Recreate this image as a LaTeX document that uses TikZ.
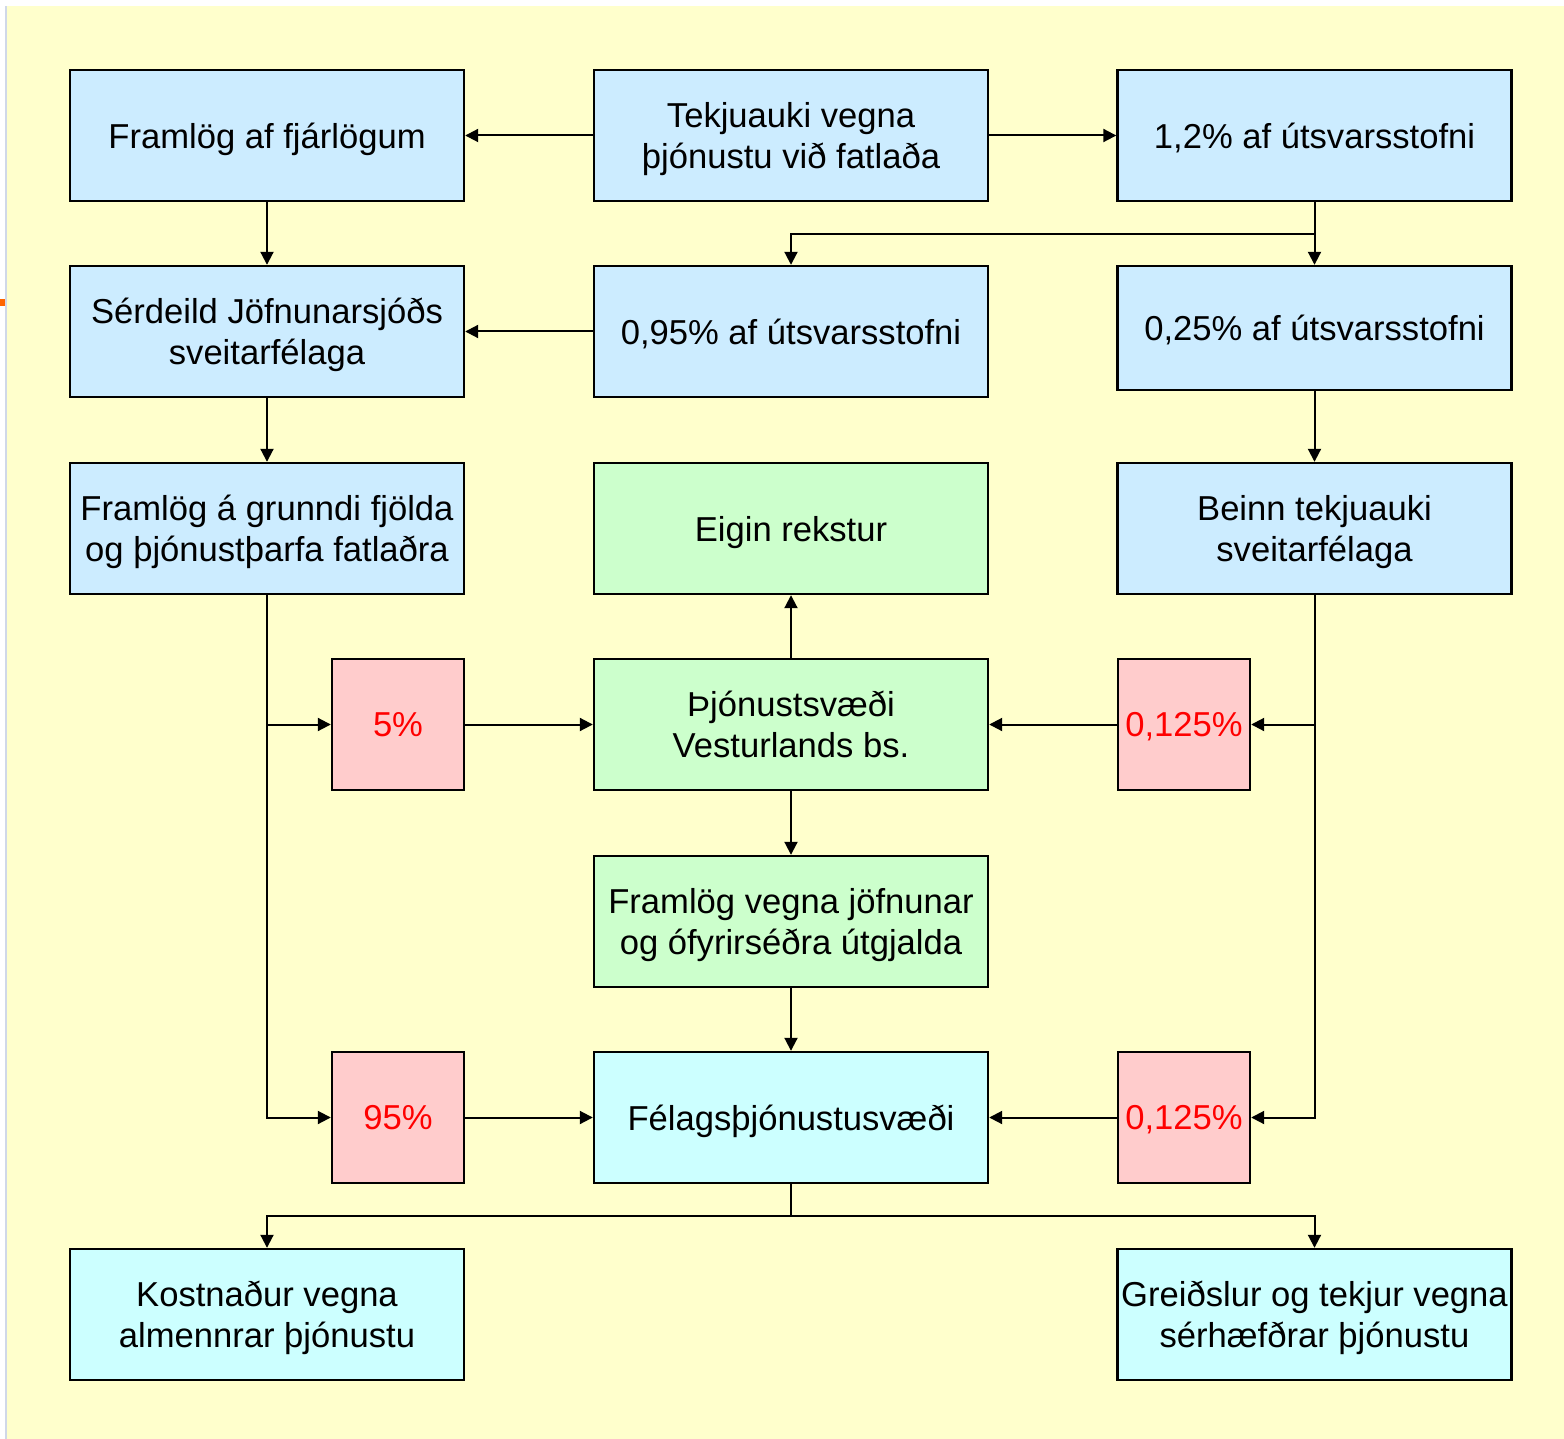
\documentclass[tikz,border=0pt]{standalone}
\usepackage{fontspec}
\setmainfont{Liberation Sans}
\usetikzlibrary{arrows.meta}
\usetikzlibrary{positioning}
\definecolor{bg}{HTML}{FFFFCC}
\definecolor{blu}{HTML}{CCECFF}
\definecolor{grn}{HTML}{CCFFCC}
\definecolor{pnk}{HTML}{FFCCCC}
\definecolor{cyn}{HTML}{CCFFFF}
\definecolor{edge}{HTML}{D0D8E8}
\definecolor{tick}{HTML}{FF6600}
\tikzset{box/.style = {draw, line width=1.2pt, fill=blu, minimum width=197pt, minimum height=65.5pt, inner sep=0, text depth=0pt, align=center, font=\fontsize{17.3}{20.5}\selectfont}}
\tikzset{pct/.style = {box, fill=pnk, minimum width=66pt, text=red}}
\tikzset{arr/.style = {line width=1pt, -{Triangle[length=6.5pt,width=6.5pt]}}}
\tikzset{ln/.style = {line width=1pt}}
\begin{document}
\begin{tikzpicture}[x=0.5pt,y=-0.5pt]
        \useasboundingbox (0,0) rectangle (1564,1439);
        \fill [white] (0,0) rectangle (1564,1439);
        \fill [bg] (7,6) rectangle (1564,1439);
        \fill [edge] (5,6) rectangle (7,1439);
        \fill [tick] (0,299) rectangle (5,306);

        \node [box] (fjarlog) at (267,135.5) {Framlög af fjárlögum};
        \node [box] (tekjuauki) at (791,135.5) {Tekjuauki vegna\\þjónustu við fatlaða};
        \node [box] (utsvar) at (1314.5,135.5) {1,2\% af útsvarsstofni};
        \node [box] (serdeild) at (267,331.5) {Sérdeild Jöfnunarsjóðs\\sveitarfélaga};
        \node [box] (utsvarA) at (791,331.5) {0,95\% af útsvarsstofni};
        \node [box, minimum height=62pt] (utsvarB) at (1314.5,328) {0,25\% af útsvarsstofni};
        \node [box] (grunn) at (267,528.5) {Framlög á grunndi fjölda\\og þjónustþarfa fatlaðra};
        \node [box, fill=grn] (eigin) at (791,528.5) {Eigin rekstur};
        \node [box] (beinn) at (1314.5,528.5) {Beinn tekjuauki\\sveitarfélaga};
        \node [pct] (pA) at (398,724.5) {5\%};
        \node [box, fill=grn] (vest) at (791,724.5) {Þjónustsvæði\\Vesturlands bs.};
        \node [pct] (pB) at (1184,724.5) {0,125\%};
        \node [box, fill=grn] (jofn) at (791,921.5) {Framlög vegna jöfnunar\\og ófyrirséðra útgjalda};
        \node [pct] (pC) at (398,1117.5) {95\%};
        \node [box, fill=cyn] (felag) at (791,1117.5) {Félagsþjónustusvæði};
        \node [pct] (pD) at (1184,1117.5) {0,125\%};
        \node [box, fill=cyn] (kostn) at (267,1314.5) {Kostnaður vegna\\almennrar þjónustu};
        \node [box, fill=cyn] (greid) at (1314.5,1314.5) {Greiðslur og tekjur vegna\\sérhæfðrar þjónustu};

        \coordinate (split1) at (1314.5,234);
        \coordinate (split2) at (791,1216);

        \draw [arr] (tekjuauki) -- (fjarlog);
        \draw [arr] (tekjuauki) -- (utsvar);
        \draw [arr] (fjarlog) -- (serdeild);
        \draw [arr] (utsvar) -- (utsvarB);
        \draw [arr] (split1) -| (utsvarA);
        \draw [arr] (utsvarA) -- (serdeild);
        \draw [arr] (serdeild) -- (grunn);
        \draw [arr] (utsvarB) -- (beinn);
        \draw [arr] (grunn.south) |- (pA);
        \draw [arr] (grunn.south) |- (pC);
        \draw [arr] (pA) -- (vest);
        \draw [arr] (vest) -- (eigin);
        \draw [arr] (vest) -- (jofn);
        \draw [arr] (jofn) -- (felag);
        \draw [arr] (pC) -- (felag);
        \draw [arr] (beinn.south) |- (pB);
        \draw [arr] (beinn.south) |- (pD);
        \draw [arr] (pB) -- (vest);
        \draw [arr] (pD) -- (felag);
        \draw [ln] (felag) -- (split2);
        \draw [arr] (split2) -| (kostn);
        \draw [arr] (split2) -| (greid);
    \end{tikzpicture}
\end{document}
